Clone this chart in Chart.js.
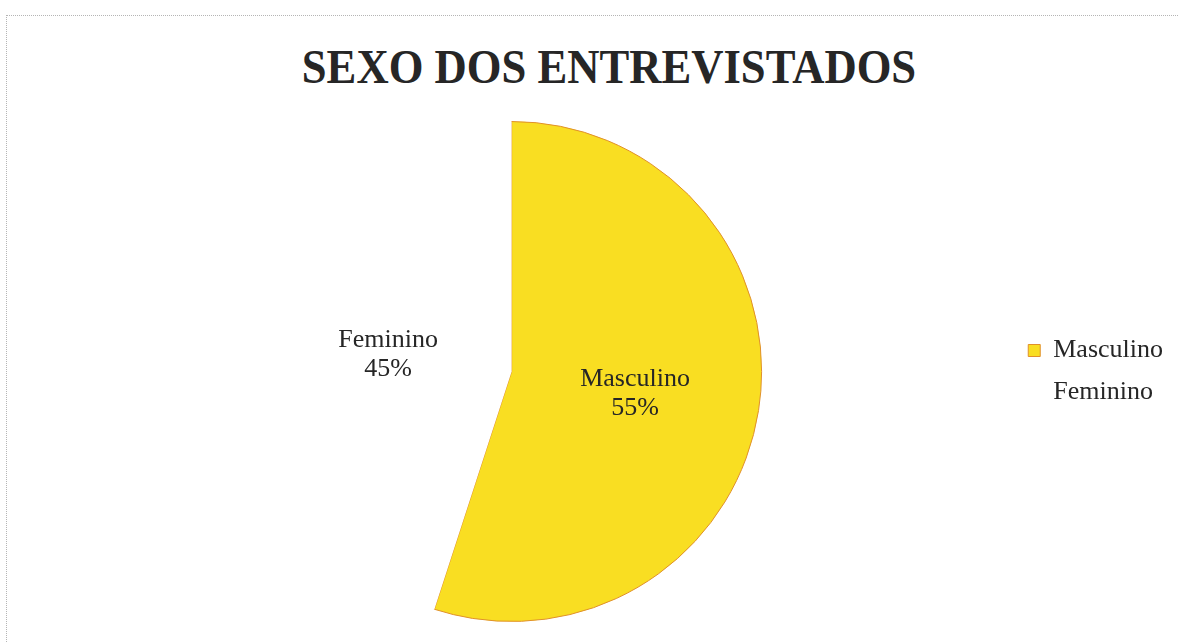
<!DOCTYPE html>
<html>
<head>
<meta charset="utf-8">
<script src="https://cdn.jsdelivr.net/npm/chart.js@4"></script>
<style>
    html, body { margin: 0; padding: 0; background: #fff; }
    #wrap { position: relative; width: 1178px; height: 642px; overflow: hidden; }
    #frame { position: absolute; left: 6px; top: 15px; right: 0; bottom: 0;
             border-top: 1px dotted #b5b5b5; border-left: 1px dotted #b5b5b5; }
    #title { position: absolute; left: 40px; width: 1138px; top: 43px; margin: 0;
             text-align: center; font: bold 48px "Liberation Serif", serif; line-height: 48px;
             color: #262626; transform: scaleX(0.93); transform-origin: 569px 0; }
    canvas { position: absolute; left: 0; top: 0; }
</style>
</head>
<body>
<div id="wrap">
    <div id="frame"></div>
    <h1 id="title">SEXO DOS ENTREVISTADOS</h1>
    <canvas id="sexChart" width="1178" height="642"></canvas>
</div>
<script>
const categories = ['Masculino', 'Feminino'];
const percentages = [55, 45];
const sliceColors = ['#f9de22', '#ffffff'];

const sliceLabels = {
    id: 'sliceLabels',
    afterDatasetsDraw(chart) {
        const ctx = chart.ctx;
        const meta = chart.getDatasetMeta(0);
        ctx.save();
        ctx.font = '26px "Liberation Serif", serif';
        ctx.fillStyle = '#262626';
        ctx.textAlign = 'center';
        ctx.textBaseline = 'middle';
        meta.data.forEach((arc, i) => {
            const p = arc.getCenterPoint();
            ctx.fillText(categories[i], p.x, p.y - 12);
            ctx.fillText(percentages[i] + '%', p.x, p.y + 17);
        });
        ctx.restore();
    }
};

new Chart(document.getElementById('sexChart'), {
    type: 'pie',
    data: {
        labels: categories,
        datasets: [{
            data: percentages,
            backgroundColor: sliceColors,
            borderColor: ['#e0902a', '#ffffff'],
            borderWidth: [1, 0]
        }]
    },
    options: {
        responsive: false,
        animation: false,
        layout: {
            padding: { top: 121, bottom: 20, left: 11, right: 5 }
        },
        plugins: {
            tooltip: { enabled: false },
            legend: {
                position: 'right',
                labels: {
                    boxWidth: 12,
                    boxHeight: 12,
                    padding: 16,
                    color: '#262626',
                    font: { family: '"Liberation Serif", serif', size: 26 }
                }
            }
        }
    },
    plugins: [sliceLabels]
});
</script>
</body>
</html>
